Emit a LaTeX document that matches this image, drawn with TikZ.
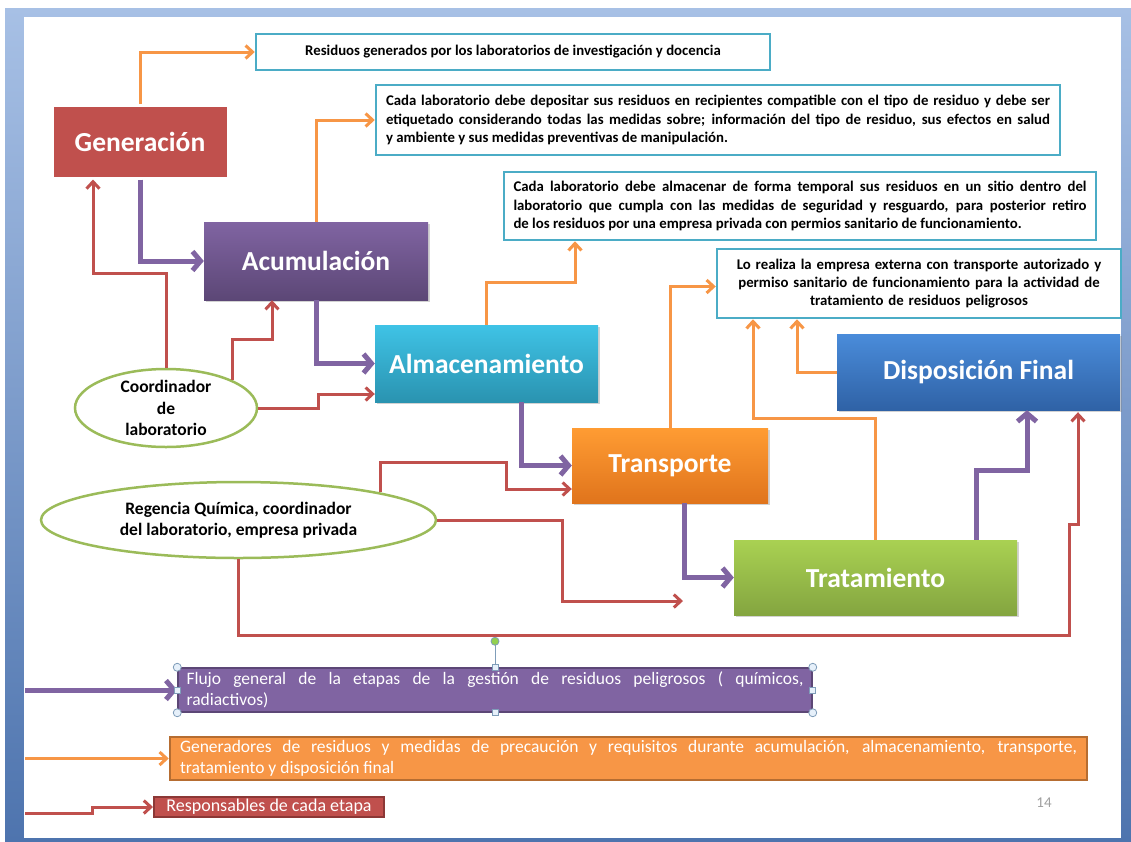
\documentclass[tikz,border=0pt]{standalone}
\usepackage{fontspec}
\setmainfont{Carlito}
\usetikzlibrary{arrows.meta, shapes.geometric, shadows}

\definecolor{ppred}{HTML}{C0504D}
\definecolor{ppreddark}{HTML}{8C3836}
\definecolor{pppurple}{HTML}{8064A2}
\definecolor{pppurpledark}{HTML}{5C4776}
\definecolor{ppcyan}{HTML}{4BACC6}
\definecolor{ppcyanhi}{HTML}{3FC3E6}
\definecolor{ppcyanlo}{HTML}{2A93B0}
\definecolor{pporange}{HTML}{F79646}
\definecolor{pporangehi}{HTML}{FF9C33}
\definecolor{pporangelo}{HTML}{E0741C}
\definecolor{pporangedark}{HTML}{B66D31}
\definecolor{ppgreen}{HTML}{9BBB59}
\definecolor{ppgreenhi}{HTML}{A9D152}
\definecolor{ppgreenlo}{HTML}{84A540}
\definecolor{ppbluehi}{HTML}{4A8CDA}
\definecolor{ppbluelo}{HTML}{2F62A6}
\definecolor{framehi}{HTML}{A7C0E5}
\definecolor{framelo}{HTML}{4E74AE}
\definecolor{handlefill}{HTML}{E6F0FA}
\definecolor{handledraw}{HTML}{7F9DB9}
\definecolor{handlegreen}{HTML}{92D050}

\begin{document}
\begin{tikzpicture}[x=1pt, y=-1pt,
  stage/.style={rectangle, text=white, inner sep=0pt,
                font=\bfseries\fontsize{27.5}{32}\selectfont,
                drop shadow={opacity=0.35, shadow xshift=2pt, shadow yshift=-2pt}},
  note/.style={rectangle, draw=ppcyan, line width=2.5pt, fill=white, inner sep=0pt,
               font=\bfseries\fontsize{14.8}{18.3}\selectfont},
  actor/.style={ellipse, draw=ppgreen, line width=2.5pt, fill=white, inner sep=0pt},
  actortext/.style={align=center, font=\bfseries\fontsize{17.5}{21.5}\selectfont},
  legend/.style={rectangle, text=white, inner sep=0pt, font=\fontsize{17.5}{21}\selectfont},
  handle/.style={draw=handledraw, fill=handlefill, line width=0.8pt},
  flow/.style={draw=pppurple, line width=5pt, -{Straight Barb[length=8pt, width=19pt]}},
  info/.style={draw=pporange, line width=3pt, -{Straight Barb[length=7pt, width=13pt]}},
  resp/.style={draw=ppred, line width=3pt, -{Straight Barb[length=7pt, width=13pt]}}]

  \useasboundingbox (0,0) rectangle (1131,841);
  \fill[top color=framehi, bottom color=framelo] (5,8) rectangle (1131,841);
  \fill[white] (24,17) rectangle (1121,838);

  % etapas
  \node[stage, fill=ppred, draw=white, line width=3pt, minimum width=176pt, minimum height=73pt] at (140,141.5) (gen) {Generación};
  \node[stage, top color=pppurple, bottom color=pppurpledark, minimum width=224pt, minimum height=78pt] at (316,261) (acum) {Acumulación};
  \node[stage, top color=ppcyanhi, bottom color=ppcyanlo, minimum width=223pt, minimum height=77pt] at (486.5,363.5) (alm) {Almacenamiento};
  \node[stage, top color=pporangehi, bottom color=pporangelo, minimum width=196pt, minimum height=75pt] at (670,465.5) (trans) {Transporte};
  \node[stage, top color=ppgreenhi, bottom color=ppgreenlo, minimum width=283pt, minimum height=75pt] at (875.5,577.5) (trat) {Tratamiento};
  \node[stage, top color=ppbluehi, bottom color=ppbluelo, minimum width=283pt, minimum height=76pt] at (978.5,372) (disp) {Disposición Final};

  % textos
  \node[note, minimum width=514pt, minimum height=36pt] at (513,52) (txtgen)
    {Residuos generados por los laboratorios de investigación y docencia};
  \node[note, minimum width=684pt, minimum height=70pt, text width=664pt, align=justify] at (718,120) (txtacum)
    {Cada laboratorio debe depositar sus residuos en recipientes compatible con el tipo de residuo y debe ser\linebreak
     etiquetado considerando todas las medidas sobre; información del tipo de residuo, sus efectos en salud\linebreak
     y ambiente y sus medidas preventivas de manipulación.};
  \node[note, minimum width=592pt, minimum height=68pt, text width=573pt, align=justify] at (800,206) (txtalm)
    {Cada laboratorio debe almacenar de forma temporal sus residuos en un sitio dentro del\linebreak
     laboratorio que cumpla con las medidas de seguridad y resguardo, para posterior retiro\linebreak
     de los residuos por una empresa privada con permios sanitario de funcionamiento.};
  \node[note, minimum width=404pt, minimum height=69pt, text width=390pt, align=center] at (919,283.5) (txtext)
    {Lo realiza la empresa externa con transporte autorizado y\\
     permiso sanitario de funcionamiento para la actividad de\\
     tratamiento de residuos peligrosos};

  % responsables
  \node[actor, minimum width=182pt, minimum height=78pt,
        label={[actortext]center:Coordinador\\de\\laboratorio}] at (166,408) (coord) {};
  \node[actor, minimum width=395pt, minimum height=76pt,
        label={[actortext]center:Regencia Química, coordinador\\del laboratorio, empresa privada}] at (238.5,520) (reg) {};
  \coordinate (tratin) at (683,601);

  % leyenda
  \node[legend, fill=pppurple, draw=pppurpledark, line width=1.5pt, minimum width=634pt, minimum height=44pt,
        text width=617pt, align=justify] at (495,690) (legflow)
    {Flujo general de la etapas de la gestión de residuos peligrosos ( químicos,\linebreak radiactivos)};
  \node[legend, fill=pporange, draw=pporangedark, line width=2.5pt, minimum width=917pt, minimum height=43pt,
        text width=897pt, align=justify] at (628.5,758.5) (leginfo)
    {Generadores de residuos y medidas de precaución y requisitos durante acumulación, almacenamiento, transporte,\linebreak
     tratamiento y disposición final};
  \node[legend, fill=ppred, draw=ppreddark, line width=2pt, minimum width=230pt, minimum height=20pt,
        font=\fontsize{18}{20}\selectfont] at (269,807) (legresp) {Responsables de cada etapa};
  \node[text=gray!75, font=\fontsize{15}{18}\selectfont] at (1044,803) (pagenum) {14};

  \coordinate (lflow) at (25,690);
  \coordinate (linfo) at (25,758.5);
  \coordinate (lresp) at (25,813);

  % flujo
  \draw[flow] (gen.south) |- (acum.west);
  \draw[flow] (acum.south) |- (alm.west);
  \draw[flow] ([xshift=34.5pt]alm.south) |- (trans.west);
  \draw[flow] ([xshift=14pt]trans.south) |- (trat.west);
  \draw[flow] ([xshift=100.5pt]trat.north) -- ++(0,-69) -| ([xshift=48.5pt]disp.south);

  % medidas
  \draw[info] (gen.north) |- (txtgen.west);
  \draw[info] (acum.north) |- (txtacum.west);
  \draw[info] (alm.north) -- ++(0,-42) -| ([xshift=-225pt]txtalm.south);
  \draw[info] (trans.north) |- ([yshift=-3pt]txtext.west);
  \draw[info] (trat.north) -- ++(0,-121) -| ([xshift=-166pt]txtext.south);
  \draw[info] (disp.west) -| ([xshift=-122pt]txtext.south);

  % responsables
  \draw[resp] (coord.north) -- ++(0,-94) -| ([xshift=-47pt]gen.south);
  \draw[resp] (coord.23) -- ++(0,-40) -| ([xshift=-44pt]acum.south);
  \draw[resp] (coord.east) -- ++(60,0) |- ([yshift=-30.5pt]alm.west);
  \draw[resp] (reg.11) -- ++(0,-30) -- ++(126,0) |- ([yshift=-23.5pt]trans.west);
  \draw[resp] (reg.east) -- ++(125,0) |- (tratin);
  \draw[resp] (reg.south) -- ++(0,76) -- ++(830.5,0) -- ++(0,-111) -| ([xshift=99.5pt,yshift=-2pt]disp.south);

  % leyenda
  \draw[flow] (lflow) -- (legflow.west);
  \draw[info] (linfo) -- (leginfo.west);
  \draw[resp] (lresp) -- ++(67,0) |- (legresp.west);

  \draw[handledraw, line width=0.8pt] (legflow.north) -- ++(0,-26);
  \draw[handle, fill=handlegreen] ([yshift=26pt]legflow.north) circle (4pt);
  \foreach \p in {north west, north east, south west, south east}
    \draw[handle] (legflow.\p) circle (4pt);
  \foreach \p in {north, south, west, east}
    \draw[handle] ([xshift=-3pt, yshift=3pt]legflow.\p) rectangle ++(6,6);

\end{tikzpicture}
\end{document}
